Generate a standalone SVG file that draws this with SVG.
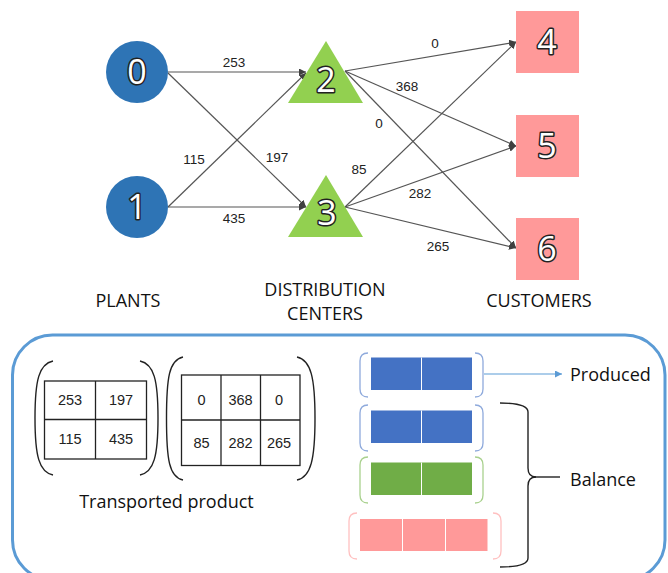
<svg xmlns="http://www.w3.org/2000/svg" width="668" height="573" viewBox="0 0 668 573">
<defs>
<marker id="ah" viewBox="0 0 10 10" refX="10" refY="5" markerWidth="7" markerHeight="7" markerUnits="userSpaceOnUse" orient="auto"><path d="M0,0 L10,5 L0,10 z" fill="#404040"/></marker>
<marker id="ahb" viewBox="0 0 10 10" refX="10" refY="5" markerWidth="7" markerHeight="7" markerUnits="userSpaceOnUse" orient="auto"><path d="M0,0 L10,5 L0,10 z" fill="#5B9BD5"/></marker>
</defs>
<style>
.num{font-family:"Open Sans","DejaVu Sans",sans-serif;font-size:34px;fill:#fff;stroke:#222;stroke-width:3;paint-order:stroke;stroke-linejoin:round;text-anchor:middle}
.el{font-family:"Liberation Sans",Arial,sans-serif;font-size:13.5px;fill:#222;text-anchor:middle}
.cap{font-family:"Open Sans","Liberation Sans",sans-serif;font-size:18px;fill:#111;text-anchor:middle}
.lab{font-family:"Open Sans","Liberation Sans",sans-serif;font-size:18px;fill:#111}
.edge{stroke:#555;stroke-width:1.2;fill:none;marker-end:url(#ah)}
.tv{font-family:"Liberation Sans",Arial,sans-serif;font-size:14.5px;fill:#222;text-anchor:middle}
.grid{stroke:#222;stroke-width:1.3;fill:none}
.paren{stroke:#222;stroke-width:1.4;fill:none}
.plant{fill:#2E74B5}
.dc{fill:#92D050}
.cust{fill:#FF9999}
</style>
<g id="connectors">
<line class="edge" x1="168" y1="72" x2="306" y2="72"/>
<line class="edge" x1="168" y1="73" x2="306" y2="207"/>
<line class="edge" x1="168" y1="207" x2="306" y2="73"/>
<line class="edge" x1="168" y1="207" x2="306" y2="207"/>
<line class="edge" x1="345" y1="71" x2="516" y2="42"/>
<line class="edge" x1="345" y1="71" x2="516" y2="146"/>
<line class="edge" x1="345" y1="71" x2="516" y2="248"/>
<line class="edge" x1="345" y1="207" x2="516" y2="42"/>
<line class="edge" x1="345" y1="207" x2="516" y2="146"/>
<line class="edge" x1="345" y1="207" x2="516" y2="248"/>
<text class="el" x="234" y="67">253</text>
<text class="el" x="277" y="162">197</text>
<text class="el" x="194" y="164">115</text>
<text class="el" x="234" y="223">435</text>
<text class="el" x="435" y="48">0</text>
<text class="el" x="407" y="91">368</text>
<text class="el" x="379" y="128">0</text>
<text class="el" x="359" y="174">85</text>
<text class="el" x="420" y="198">282</text>
<text class="el" x="438" y="251">265</text>
</g>
<g id="node0"><circle class="plant" cx="137" cy="72" r="31"/><text class="num" x="137" y="84">0</text></g>
<g id="node1"><circle class="plant" cx="137" cy="207" r="31"/><text class="num" x="137" y="219">1</text></g>
<g id="node2"><polygon class="dc" points="326,41 363,103 288,103"/><text class="num" x="326" y="92">2</text></g>
<g id="node3"><polygon class="dc" points="326,175 363,237 288,237"/><text class="num" x="327" y="225">3</text></g>
<g id="node4"><rect class="cust" x="516" y="11" width="63" height="62"/><text class="num" x="547" y="54">4</text></g>
<g id="node5"><rect class="cust" x="516" y="115" width="63" height="62"/><text class="num" x="547" y="158">5</text></g>
<g id="node6"><rect class="cust" x="516" y="218" width="63" height="62"/><text class="num" x="547" y="261">6</text></g>
<g id="captions">
<text class="cap" x="128" y="307">PLANTS</text>
<text class="cap" x="325" y="295.5">DISTRIBUTION</text>
<text class="cap" x="325" y="320">CENTERS</text>
<text class="cap" x="539" y="307">CUSTOMERS</text>
</g>
<g id="panel">
<rect x="12.5" y="335" width="652.5" height="245" rx="40" ry="40" fill="none" stroke="#5B9BD5" stroke-width="3"/>
</g>
<g id="matrix1">
<path class="paren" d="M53,361 C39,364 35,380 35,418 C35,456 39,472 53,475"/>
<path class="paren" d="M140,361 C154,364 158,380 158,418 C158,456 154,472 140,475"/>
<rect class="grid" x="44.5" y="381" width="102" height="78"/>
<line class="grid" x1="95.5" y1="381" x2="95.5" y2="459"/>
<line class="grid" x1="44.5" y1="419.5" x2="146.5" y2="419.5"/>
<text class="tv" x="70" y="405">253</text>
<text class="tv" x="121" y="405">197</text>
<text class="tv" x="70" y="444">115</text>
<text class="tv" x="121" y="444">435</text>
</g>
<g id="matrix2">
<path class="paren" d="M183,357 C169,360 166.5,378 166.5,418.5 C166.5,459 169,477 183,480"/>
<path class="paren" d="M297,357 C311,360 315,378 315,418.5 C315,459 311,477 297,480"/>
<rect class="grid" x="181.5" y="375" width="118.5" height="90.5"/>
<line class="grid" x1="221" y1="375" x2="221" y2="465.5"/>
<line class="grid" x1="260.5" y1="375" x2="260.5" y2="465.5"/>
<line class="grid" x1="181.5" y1="420" x2="300" y2="420"/>
<text class="tv" x="201.5" y="405">0</text>
<text class="tv" x="240.5" y="405">368</text>
<text class="tv" x="279" y="405">0</text>
<text class="tv" x="201.5" y="448">85</text>
<text class="tv" x="240.5" y="448">282</text>
<text class="tv" x="279" y="448">265</text>
<text class="lab" x="166.5" y="508" text-anchor="middle">Transported product</text>
</g>
<g id="produced">
<path d="M368,353 Q360,353 360,361 L360,389 Q360,397 368,397" fill="none" stroke="#8FAADC" stroke-width="1.3"/>
<path d="M475,353 Q483,353 483,361 L483,389 Q483,397 475,397" fill="none" stroke="#8FAADC" stroke-width="1.3"/>
<rect x="371" y="357.5" width="101" height="32.5" fill="#4472C4"/>
<line x1="421.5" y1="357.5" x2="421.5" y2="390" stroke="#fff" stroke-width="1"/>
<line x1="484" y1="374" x2="562" y2="374" stroke="#5B9BD5" stroke-width="1.2" marker-end="url(#ahb)"/>
<text class="lab" x="570" y="381">Produced</text>
</g>
<g id="balance-row1">
<path d="M368,405 Q360,405 360,413 L360,443 Q360,451 368,451" fill="none" stroke="#8FAADC" stroke-width="1.3"/>
<path d="M475,405 Q483,405 483,413 L483,443 Q483,451 475,451" fill="none" stroke="#8FAADC" stroke-width="1.3"/>
<rect x="371" y="410.5" width="101" height="32.5" fill="#4472C4"/>
<line x1="421.5" y1="410.5" x2="421.5" y2="443" stroke="#fff" stroke-width="1"/>
</g>
<g id="balance-row2">
<path d="M368,457 Q360,457 360,465 L360,495 Q360,503 368,503" fill="none" stroke="#A9D18E" stroke-width="1.3"/>
<path d="M475,457 Q483,457 483,465 L483,495 Q483,503 475,503" fill="none" stroke="#A9D18E" stroke-width="1.3"/>
<rect x="371" y="462.5" width="101" height="32.5" fill="#70AD47"/>
<line x1="421.5" y1="462.5" x2="421.5" y2="495" stroke="#fff" stroke-width="1"/>
</g>
<g id="balance-row3">
<path d="M357,513 Q349,513 349,521 L349,551 Q349,559 357,559" fill="none" stroke="#FFC0C0" stroke-width="1.3"/>
<path d="M493,513 Q501,513 501,521 L501,551 Q501,559 493,559" fill="none" stroke="#FFC0C0" stroke-width="1.3"/>
<rect x="360" y="519" width="127.5" height="32" fill="#FF9999"/>
<line x1="402.5" y1="519" x2="402.5" y2="551" stroke="#fff" stroke-width="1"/>
<line x1="445.5" y1="519" x2="445.5" y2="551" stroke="#fff" stroke-width="1"/>
</g>
<g id="balance">
<path d="M500,403 Q528,403 528,412 L528,468 Q528,477 536,477 Q528,477 528,486 L528,558 Q528,567 500,567" fill="none" stroke="#222" stroke-width="1.4"/>
<line x1="534" y1="477" x2="560" y2="477" stroke="#222" stroke-width="1.4"/>
<text class="lab" x="570" y="485.5">Balance</text>
</g>
</svg>
